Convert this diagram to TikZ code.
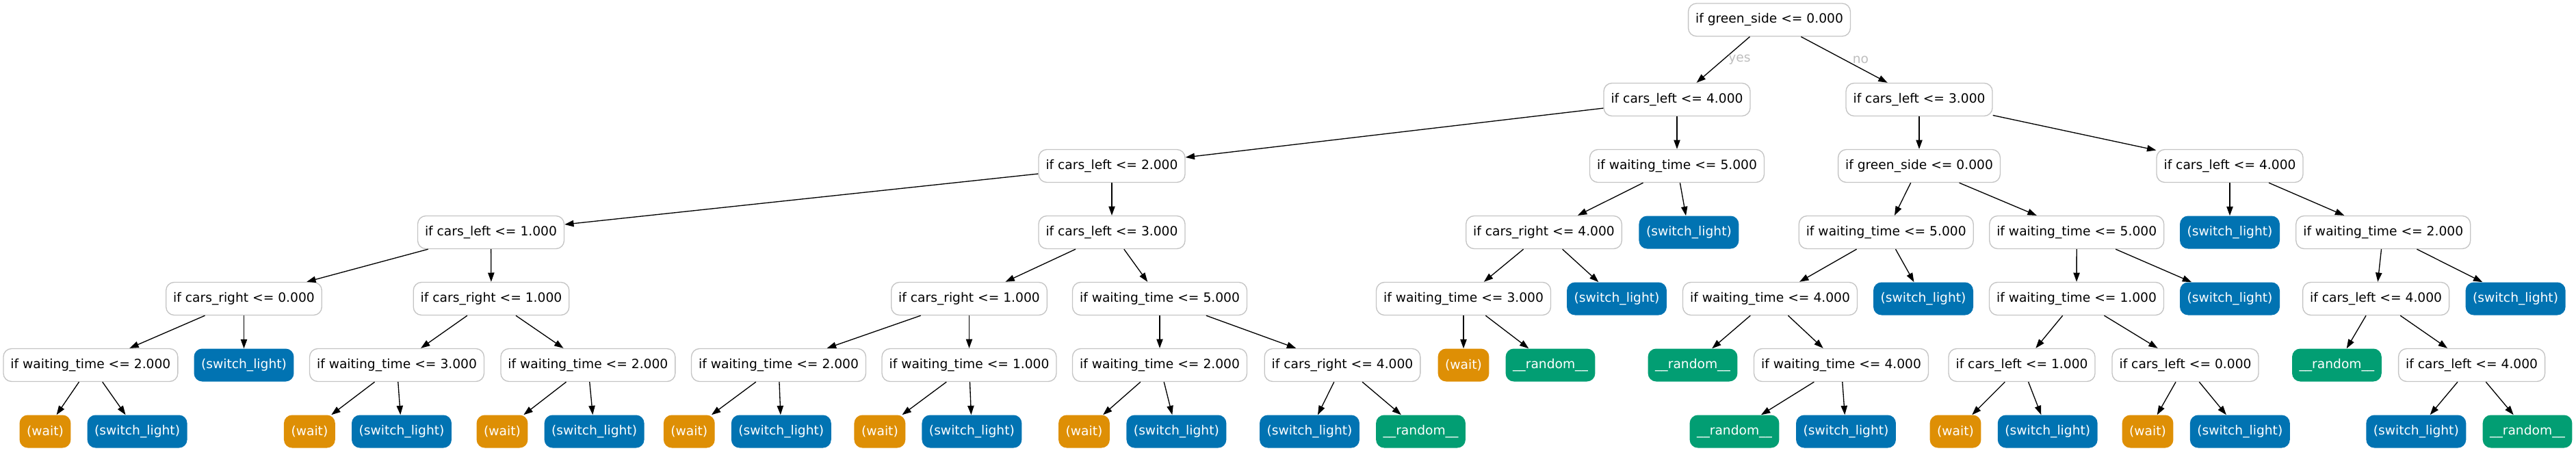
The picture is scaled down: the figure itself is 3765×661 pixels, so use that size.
\documentclass[tikz,border=0pt]{standalone}
\usepackage{fontspec}
\setmainfont{DejaVu Sans}
\usetikzlibrary{arrows.meta}
\definecolor{rimgray}{HTML}{C4C4C4}
\definecolor{labelgray}{HTML}{BEBEBE}
\definecolor{waitorange}{HTML}{DE8F05}
\definecolor{switchblue}{HTML}{0173B2}
\definecolor{randgreen}{HTML}{029E73}
\begin{document}
\begin{tikzpicture}[x=0.75pt,y=-0.75pt,
    every node/.style={font=\fontsize{14}{17}\selectfont},
    box/.style={rounded corners=9pt,minimum height=36pt,minimum width=54pt,inner xsep=7.9pt,inner ysep=2pt},
    split/.style={box,draw=rimgray,line width=1pt,fill=white},
    waitleaf/.style={box,fill=waitorange,text=white},
    swleaf/.style={box,fill=switchblue,text=white},
    randleaf/.style={box,fill=randgreen,text=white},
    edge/.style={line width=1pt,-{Triangle[length=10pt,width=7pt]}},
    elabel/.style={text=labelgray,inner sep=0pt}]
\useasboundingbox (0,0) rectangle (3765,661);
%% level 0
\node[split] (t) at (2586,29) {if green\_side <= 0.000};
%% level 1
\node[split] (tL) at (2451,145.5) {if cars\_left <= 4.000};
\node[split] (tR) at (2805,145.5) {if cars\_left <= 3.000};
%% level 2
\node[split] (tLL) at (1625,242.5) {if cars\_left <= 2.000};
\node[split] (tLR) at (2451,242.5) {if waiting\_time <= 5.000};
\node[split] (tRL) at (2805,242.5) {if green\_side <= 0.000};
\node[split] (tRR) at (3259,242.5) {if cars\_left <= 4.000};
%% level 3
\node[split] (tLLL) at (717.5,339.5) {if cars\_left <= 1.000};
\node[split] (tLLR) at (1625,339.5) {if cars\_left <= 3.000};
\node[split] (tLRL) at (2256.5,339.5) {if cars\_right <= 4.000};
\node[swleaf] (tLRR) at (2468.4,339.5) {(switch\_light)};
\node[split] (tRLL) at (2756.7,339.5) {if waiting\_time <= 5.000};
\node[split] (tRLR) at (3035.2,339.5) {if waiting\_time <= 5.000};
\node[swleaf] (tRRL) at (3259,339.5) {(switch\_light)};
\node[split] (tRRR) at (3483.2,339.5) {if waiting\_time <= 2.000};
%% level 4
\node[split] (tLLLL) at (356.5,436.5) {if cars\_right <= 0.000};
\node[split] (tLLLR) at (718,436.5) {if cars\_right <= 1.000};
\node[split] (tLLRL) at (1416.5,436.5) {if cars\_right <= 1.000};
\node[split] (tLLRR) at (1695,436.5) {if waiting\_time <= 5.000};
\node[split] (tLRLL) at (2139,436.5) {if waiting\_time <= 3.000};
\node[swleaf] (tLRLR) at (2363,436.5) {(switch\_light)};
\node[split] (tRLLL) at (2587,436.5) {if waiting\_time <= 4.000};
\node[swleaf] (tRLLR) at (2811,436.5) {(switch\_light)};
\node[split] (tRLRL) at (3035,436.5) {if waiting\_time <= 1.000};
\node[swleaf] (tRLRR) at (3259,436.5) {(switch\_light)};
\node[split] (tRRRL) at (3472.6,436.5) {if cars\_left <= 4.000};
\node[swleaf] (tRRRR) at (3676.6,436.5) {(switch\_light)};
%% level 5
\node[split] (tLLLLL) at (132.4,533.5) {if waiting\_time <= 2.000};
\node[swleaf] (tLLLLR) at (356.5,533.5) {(switch\_light)};
\node[split] (tLLLRL) at (580,533.5) {if waiting\_time <= 3.000};
\node[split] (tLLLRR) at (859.4,533.5) {if waiting\_time <= 2.000};
\node[split] (tLLRLL) at (1138,533.5) {if waiting\_time <= 2.000};
\node[split] (tLLRLR) at (1416.5,533.5) {if waiting\_time <= 1.000};
\node[split] (tLLRRL) at (1695,533.5) {if waiting\_time <= 2.000};
\node[split] (tLLRRR) at (1962,533.5) {if cars\_right <= 4.000};
\node[waitleaf] (tLRLLL) at (2139,533.5) {(wait)};
\node[randleaf] (tLRLLR) at (2266,533.5) {\_\_random\_\_};
\node[randleaf] (tRLLLL) at (2474,533.5) {\_\_random\_\_};
\node[split] (tRLLLR) at (2691,533.5) {if waiting\_time <= 4.000};
\node[split] (tRLRLL) at (2955,533.5) {if cars\_left <= 1.000};
\node[split] (tRLRLR) at (3194,533.5) {if cars\_left <= 0.000};
\node[randleaf] (tRRRLL) at (3415.4,533.5) {\_\_random\_\_};
\node[split] (tRRRLR) at (3612.6,533.5) {if cars\_left <= 4.000};
%% level 6
\node[waitleaf] (tLLLLLL) at (66,630.5) {(wait)};
\node[swleaf] (tLLLLLR) at (200.6,630.5) {(switch\_light)};
\node[waitleaf] (tLLLRLL) at (452.4,630.5) {(wait)};
\node[swleaf] (tLLLRLR) at (587,630.5) {(switch\_light)};
\node[waitleaf] (tLLLRRL) at (734,630.5) {(wait)};
\node[swleaf] (tLLLRRR) at (868.6,630.5) {(switch\_light)};
\node[waitleaf] (tLLRLLL) at (1007.3,630.5) {(wait)};
\node[swleaf] (tLLRLLR) at (1141.8,630.5) {(switch\_light)};
\node[waitleaf] (tLLRLRL) at (1285.9,630.5) {(wait)};
\node[swleaf] (tLLRLRR) at (1420.4,630.5) {(switch\_light)};
\node[waitleaf] (tLLRRLL) at (1584.5,630.5) {(wait)};
\node[swleaf] (tLLRRLR) at (1719.4,630.5) {(switch\_light)};
\node[swleaf] (tLLRRRL) at (1914,630.5) {(switch\_light)};
\node[randleaf] (tLLRRRR) at (2076.5,630.5) {\_\_random\_\_};
\node[randleaf] (tRLLLRL) at (2535,630.5) {\_\_random\_\_};
\node[swleaf] (tRLLLRR) at (2698,630.5) {(switch\_light)};
\node[waitleaf] (tRLRLLL) at (2858,630.5) {(wait)};
\node[swleaf] (tRLRLLR) at (2992.7,630.5) {(switch\_light)};
\node[waitleaf] (tRLRLRL) at (3139,630.5) {(wait)};
\node[swleaf] (tRLRLRR) at (3273.8,630.5) {(switch\_light)};
\node[swleaf] (tRRRLRL) at (3531.3,630.5) {(switch\_light)};
\node[randleaf] (tRRRLRR) at (3694,630.5) {\_\_random\_\_};
%% edges
\draw[edge] (t) -- node[elabel,xshift=18pt] {yes} (tL);
\draw[edge] (t) -- node[elabel,xshift=18pt] {no} (tR);
\foreach \a/\b in {tL/tLL,tL/tLR,tR/tRL,tR/tRR,
    tLL/tLLL,tLL/tLLR,tLR/tLRL,tLR/tLRR,tRL/tRLL,tRL/tRLR,tRR/tRRL,tRR/tRRR,
    tLLL/tLLLL,tLLL/tLLLR,tLLR/tLLRL,tLLR/tLLRR,tLRL/tLRLL,tLRL/tLRLR,
    tRLL/tRLLL,tRLL/tRLLR,tRLR/tRLRL,tRLR/tRLRR,tRRR/tRRRL,tRRR/tRRRR,
    tLLLL/tLLLLL,tLLLL/tLLLLR,tLLLR/tLLLRL,tLLLR/tLLLRR,tLLRL/tLLRLL,tLLRL/tLLRLR,
    tLLRR/tLLRRL,tLLRR/tLLRRR,tLRLL/tLRLLL,tLRLL/tLRLLR,tRLLL/tRLLLL,tRLLL/tRLLLR,
    tRLRL/tRLRLL,tRLRL/tRLRLR,tRRRL/tRRRLL,tRRRL/tRRRLR,
    tLLLLL/tLLLLLL,tLLLLL/tLLLLLR,tLLLRL/tLLLRLL,tLLLRL/tLLLRLR,
    tLLLRR/tLLLRRL,tLLLRR/tLLLRRR,tLLRLL/tLLRLLL,tLLRLL/tLLRLLR,
    tLLRLR/tLLRLRL,tLLRLR/tLLRLRR,tLLRRL/tLLRRLL,tLLRRL/tLLRRLR,
    tLLRRR/tLLRRRL,tLLRRR/tLLRRRR,tRLLLR/tRLLLRL,tRLLLR/tRLLLRR,
    tRLRLL/tRLRLLL,tRLRLL/tRLRLLR,tRLRLR/tRLRLRL,tRLRLR/tRLRLRR,
    tRRRLR/tRRRLRL,tRRRLR/tRRRLRR}
    \draw[edge] (\a) -- (\b);
\end{tikzpicture}
\end{document}
